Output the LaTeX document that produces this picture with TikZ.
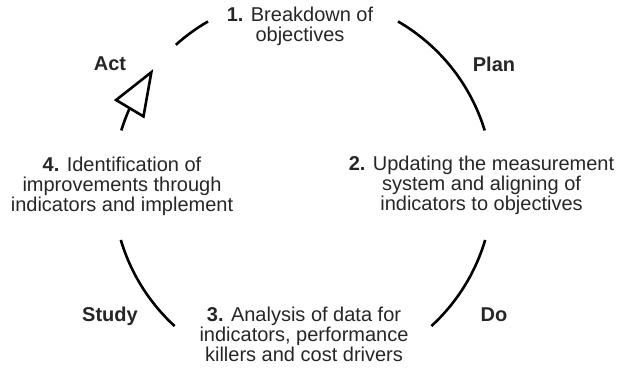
\documentclass[tikz,border=0pt]{standalone}
\usepackage{fontspec}
\setmainfont{Liberation Sans}
\usetikzlibrary{arrows.meta,bending}
\definecolor{txt}{HTML}{262626}
\begin{document}
\begin{tikzpicture}[x=1pt,y=-1pt,
  ring/.style={line width=2.6pt,draw=black},
  stepnum/.style={font=\fontsize{20}{20}\selectfont,text=txt,align=center,inner sep=0pt,anchor=base},
  phase/.style={font=\fontsize{20}{20}\selectfont\bfseries,text=txt,inner sep=0pt,anchor=base}]
\useasboundingbox (0,0) rectangle (621,373);
\coordinate (c) at (303,186);
% ring segments
\draw[ring] (c) ++(-132:190) arc[start angle=-132,end angle=-120,radius=190];
\draw[ring] (c) ++(-60:190) arc[start angle=-60,end angle=-17,radius=190];
\draw[ring] (c) ++(16.5:190) arc[start angle=16.5,end angle=47.5,radius=190];
\draw[ring] (c) ++(132.5:190) arc[start angle=132.5,end angle=163.5,radius=190];
\draw[ring,-{Triangle[open,length=47pt,width=35pt,flex]}] (c) ++(-163:190) arc[start angle=-163,end angle=-142,radius=190];
% step texts (base = baseline of last line)
\node[stepnum] (s1) at (300,41) {\textbf{1.} Breakdown of\\objectives};
\node[stepnum] (s2) at (481.5,210) {\textbf{2.} Updating the measurement\\system and aligning of\\indicators to objectives};
\node[stepnum] (s3) at (304,361.5) {\textbf{3.} Analysis of data for\\indicators, performance\\killers and cost drivers};
\node[stepnum] (s4) at (122,211.5) {\textbf{4.} Identification of\\improvements through\\indicators and implement};
% phase labels
\node[phase] (act) at (110,70.7) {Act};
\node[phase] (plan) at (494,71.7) {Plan};
\node[phase] (study) at (110,321.7) {Study};
\node[phase] (do) at (494,321.7) {Do};
\end{tikzpicture}
\end{document}
